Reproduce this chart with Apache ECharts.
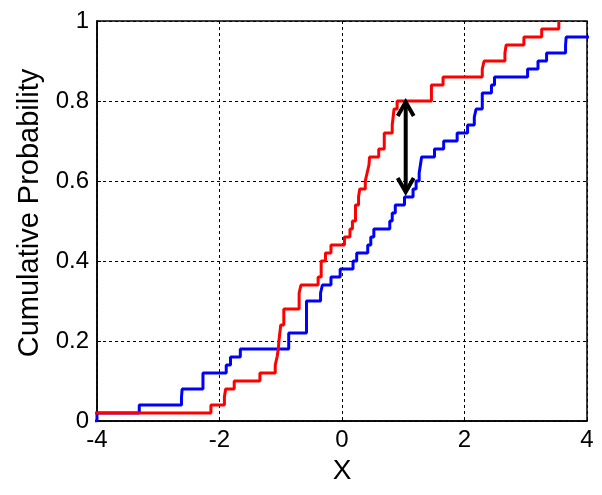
<!DOCTYPE html>
<html>
<head>
<meta charset="utf-8">
<script src="https://cdn.jsdelivr.net/npm/echarts@6/dist/echarts.min.js"></script>
<style>
  html, body { margin: 0; padding: 0; background: #fff; }
  #chart { width: 602px; height: 495px; }
</style>
</head>
<body>
<div id="chart"></div>
<script>
// Empirical CDF step points (x where the step occurs, level after the step)
const blueX = [-4.3, -4.0, -3.31, -2.62, -2.61, -2.27, -1.89, -1.82, -1.66, -0.87, -0.58,
  -0.35, -0.32, -0.18, -0.03, 0.18, 0.24, 0.42, 0.47, 0.52, 0.78, 0.82, 0.87, 1.02,
  1.16, 1.21, 1.26, 1.28, 1.30, 1.51, 1.66, 1.88, 2.05, 2.16, 2.19, 2.29, 2.44, 2.49,
  3.03, 3.20, 3.34, 3.65, 3.66, 4.2, 4.5];
const blueY = [0.00, 0.02, 0.04, 0.06, 0.08, 0.12, 0.14, 0.16, 0.18, 0.22, 0.30,
  0.32, 0.34, 0.36, 0.38, 0.40, 0.42, 0.44, 0.46, 0.48, 0.50, 0.52, 0.54, 0.56,
  0.58, 0.60, 0.62, 0.64, 0.66, 0.68, 0.70, 0.72, 0.74, 0.76, 0.78, 0.82, 0.84, 0.86,
  0.88, 0.90, 0.92, 0.94, 0.96, 0.98, 1.00];

const redX = [-4.3, -2.14, -1.92, -1.90, -1.76, -1.34, -1.09, -1.06, -1.04, -1.03, -1.00,
  -0.95, -0.70, -0.67, -0.39, -0.34, -0.27, -0.18, 0.04, 0.13, 0.17, 0.22, 0.27, 0.29,
  0.38, 0.41, 0.44, 0.45, 0.60, 0.69, 0.82, 0.85, 0.90, 1.46, 1.65, 2.29, 2.32, 2.66,
  2.68, 2.97, 3.26, 3.54];
const redY = [0.02, 0.04, 0.06, 0.08, 0.10, 0.12, 0.14, 0.16, 0.18, 0.20, 0.24,
  0.28, 0.32, 0.34, 0.36, 0.40, 0.42, 0.44, 0.46, 0.48, 0.50, 0.54, 0.56, 0.58,
  0.60, 0.62, 0.64, 0.66, 0.68, 0.72, 0.74, 0.78, 0.80, 0.84, 0.86, 0.88, 0.90, 0.92,
  0.94, 0.96, 0.98, 1.00];

// Double arrow showing the maximum distance between the two CDFs
const arrowX = 1.04;
const arrowYLow = 0.57;
const arrowYHigh = 0.80;

const xTicks = [-4, -2, 0, 2, 4];
const yTicks = [0, 0.2, 0.4, 0.6, 0.8, 1];

const blueData = blueX.map((x, i) => [x, blueY[i]]);
const redData = redX.map((x, i) => [x, redY[i]]);

const font = '"Liberation Sans", Arial, Helvetica, sans-serif';
const chart = echarts.init(document.getElementById('chart'), null, { renderer: 'canvas' });

chart.setOption({
  animation: false,
  backgroundColor: '#fff',
  grid: { left: 97, right: 15, top: 21, bottom: 74, show: true, borderColor: '#000', borderWidth: 1.5, backgroundColor: 'transparent' },
  xAxis: {
    type: 'value', min: xTicks[0], max: xTicks[xTicks.length - 1], interval: 2,
    name: 'X', nameLocation: 'middle', nameGap: 30,
    nameTextStyle: { fontFamily: font, fontSize: 28, color: '#000' },
    axisLine: { onZero: false, lineStyle: { color: '#000', width: 1.5 } },
    axisTick: { inside: true, length: 4, lineStyle: { color: '#000' } },
    axisLabel: { fontFamily: font, fontSize: 24, color: '#000', margin: 7 },
    splitLine: { show: true, lineStyle: { color: '#000', width: 1, type: [3, 3] } }
  },
  yAxis: {
    type: 'value', min: yTicks[0], max: yTicks[yTicks.length - 1], interval: 0.2,
    name: 'Cumulative Probability', nameLocation: 'middle', nameGap: 53, nameRotate: 90,
    nameTextStyle: { fontFamily: font, fontSize: 29, color: '#000', padding: [0, 0, 0, 16] },
    axisLine: { show: true, onZero: false, lineStyle: { color: '#000', width: 1.5 } },
    axisTick: { show: true, inside: true, length: 4, lineStyle: { color: '#000' } },
    axisLabel: { fontFamily: font, fontSize: 24, color: '#000', margin: 8 },
    splitLine: { show: true, lineStyle: { color: '#000', width: 1, type: [3, 3] } }
  },
  series: [
    {
      type: 'line', step: 'end', data: blueData, showSymbol: false, symbol: 'none',
      lineStyle: { color: '#0000ff', width: 3 }, clip: true, z: 3
    },
    {
      type: 'line', step: 'end', data: redData, showSymbol: false, symbol: 'none',
      lineStyle: { color: '#ff0000', width: 3 }, clip: true, z: 4
    },
    {
      type: 'custom', z: 5,
      data: [[arrowX, arrowYLow, arrowYHigh]],
      encode: { x: 0, y: [1, 2] },
      renderItem: function (params, api) {
        const lo = api.coord([api.value(0), api.value(1)]);
        const hi = api.coord([api.value(0), api.value(2)]);
        const hw = 8, hl = 15;
        const style = { stroke: '#000', lineWidth: 4, fill: null, lineJoin: 'miter' };
        return {
          type: 'group',
          children: [
            { type: 'line', shape: { x1: lo[0], y1: lo[1] - 2, x2: hi[0], y2: hi[1] + 2 }, style: style },
            { type: 'polyline', shape: { points: [[hi[0] - hw, hi[1] + hl], [hi[0], hi[1] + 1], [hi[0] + hw, hi[1] + hl]] }, style: style },
            { type: 'polyline', shape: { points: [[lo[0] - hw, lo[1] - hl], [lo[0], lo[1] - 1], [lo[0] + hw, lo[1] - hl]] }, style: style }
          ]
        };
      }
    }
  ]
});
</script>
</body>
</html>
